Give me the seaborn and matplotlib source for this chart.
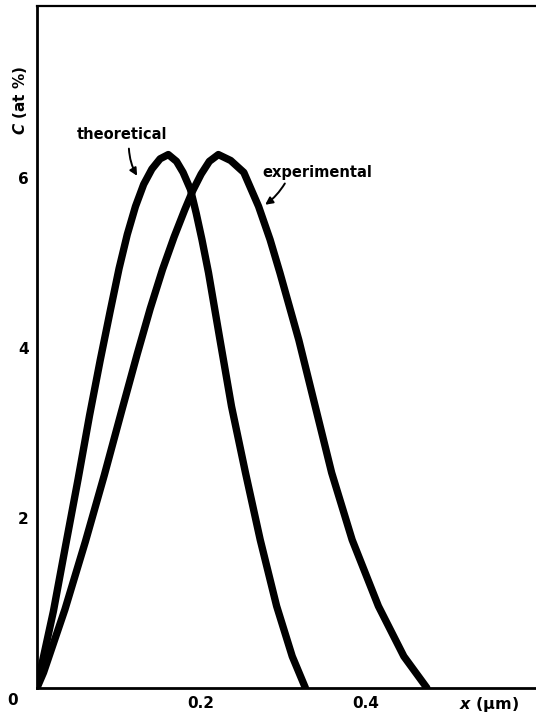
import matplotlib
matplotlib.use("Agg")
import matplotlib.pyplot as plt
import seaborn as sns
import pandas as pd

# Concentration profiles, C (at %) versus depth x (um)
theory_x = [0.0, 0.006, 0.020, 0.035, 0.050, 0.064, 0.077, 0.089, 0.100, 0.110,
            0.120, 0.130, 0.140, 0.150, 0.160, 0.170, 0.178, 0.187, 0.194, 0.201,
            0.209, 0.223, 0.237, 0.254, 0.272, 0.292, 0.311, 0.327]
theory_c = [0.0, 0.28, 0.90, 1.68, 2.45, 3.20, 3.85, 4.42, 4.93, 5.33,
            5.66, 5.92, 6.10, 6.22, 6.27, 6.19, 6.06, 5.86, 5.58, 5.27,
            4.88, 4.09, 3.31, 2.53, 1.74, 0.96, 0.37, 0.0]

exp_x = [0.0, 0.008, 0.034, 0.059, 0.082, 0.103, 0.122, 0.138, 0.153, 0.167,
         0.180, 0.190, 0.200, 0.210, 0.221, 0.236, 0.252, 0.270, 0.284, 0.296,
         0.319, 0.339, 0.359, 0.384, 0.416, 0.447, 0.475]
exp_c = [0.0, 0.18, 0.92, 1.72, 2.50, 3.25, 3.92, 4.46, 4.92, 5.30,
         5.62, 5.85, 6.04, 6.19, 6.27, 6.20, 6.06, 5.66, 5.27, 4.88,
         4.09, 3.31, 2.53, 1.74, 0.96, 0.37, 0.0]

x_ticks = [0.2, 0.4]
y_ticks = [2, 4, 6]

df = pd.concat([
    pd.DataFrame({"x": theory_x, "C": theory_c, "curve": "theoretical"}),
    pd.DataFrame({"x": exp_x, "C": exp_c, "curve": "experimental"}),
])

sns.set_theme(style="white")
plt.rcParams["font.family"] = ["DejaVu Sans"]
plt.rcParams["text.color"] = "black"

fig = plt.figure(figsize=(5.36, 7.15), dpi=100)
ax = fig.add_axes([0.069, 0.038, 0.931, 0.954])

sns.lineplot(data=df, x="x", y="C", units="curve", estimator=None, sort=False,
             color="black", linewidth=5.3, ax=ax, legend=False,
             solid_capstyle="round", solid_joinstyle="round")

ax.set_xlim(0, 0.608)
ax.set_ylim(0, 8.02)
ax.set_xticks(x_ticks)
ax.set_xticklabels([f"{t:g}" for t in x_ticks])
ax.set_yticks(y_ticks)
ax.set_yticklabels([str(t) for t in y_ticks])
ax.tick_params(direction="in", length=4, width=1.5, colors="black",
               labelsize=11, pad=6)
for lab in ax.get_xticklabels() + ax.get_yticklabels():
    lab.set_fontweight("bold")

for side in ["left", "bottom"]:
    ax.spines[side].set_linewidth(2.0)
    ax.spines[side].set_color("black")
ax.spines["top"].set_linewidth(1.6)
ax.spines["top"].set_color("black")
ax.spines["right"].set_visible(False)

ax.set_xlabel("")
ax.set_ylabel("")

# shared origin label
ax.text(-0.030, -0.15, "0", fontsize=11, fontweight="bold", ha="center", va="center")

# axis titles
fig.text(0.912, 0.014, r"$\boldsymbol{x}$ (µm)", fontsize=11.5, fontweight="bold",
         ha="center", va="center")
fig.text(0.037, 0.860, r"$\boldsymbol{C}$ (at %)", fontsize=11, fontweight="bold",
         rotation=90, ha="center", va="center")

# curve annotations
ax.text(0.103, 6.50, "theoretical", fontsize=10.5, fontweight="bold",
        ha="center", va="center")
ax.annotate("", xy=(0.122, 6.02), xytext=(0.112, 6.34),
            arrowprops=dict(arrowstyle="-|>", color="black", lw=1.4,
                            mutation_scale=11, shrinkA=0, shrinkB=0,
                            connectionstyle="arc3,rad=0.12"))
ax.text(0.341, 6.06, "experimental", fontsize=10.5, fontweight="bold",
        ha="center", va="center")
ax.annotate("", xy=(0.278, 5.68), xytext=(0.302, 5.93),
            arrowprops=dict(arrowstyle="-|>", color="black", lw=1.4,
                            mutation_scale=11, shrinkA=0, shrinkB=0,
                            connectionstyle="arc3,rad=-0.1"))

fig.savefig("out.png", dpi=100, facecolor="white")
